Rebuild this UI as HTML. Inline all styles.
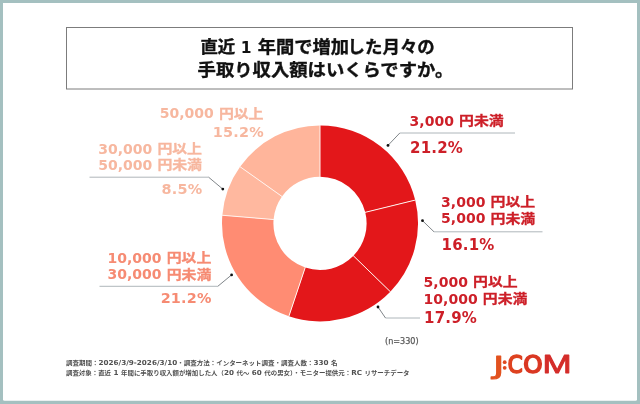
<!DOCTYPE html>
<html lang="ja"><head><meta charset="utf-8"><title>chart</title>
<style>
html,body{margin:0;padding:0;background:#fff;}
body{width:640px;height:404px;overflow:hidden;position:relative;}
svg{position:absolute;left:0;top:0;display:block;}
</style></head><body>
<svg width="640" height="404" viewBox="0 0 640 404">
<rect x="0" y="0" width="640" height="404" fill="#a4c0c0"/>
<path d="M3 3 H637 V399.2 Q637 400.7 635.5 400.7 H4.5 Q3 400.7 3 399.2 Z" fill="#ffffff"/>

<rect x="66.5" y="27.5" width="506" height="61.5" fill="#fff" stroke="#7c7c7c" stroke-width="1"/>
<g fill="#111" stroke="#111" stroke-width="0.35" font-family="Liberation Sans, Noto Sans CJK JP, sans-serif" font-weight="700" font-size="16.8">
<text x="200.4" y="53.3" textLength="34.8" lengthAdjust="spacingAndGlyphs">直近</text>
<text x="246.2" y="53.3" text-anchor="middle" font-family="DejaVu Sans, Liberation Sans, sans-serif" font-weight="700" font-size="15.5" stroke="none">1</text>
<text x="257.8" y="53.3" textLength="91.3" lengthAdjust="spacingAndGlyphs">年間で増加</text>
<text x="347.6" y="53.3" textLength="87.2" lengthAdjust="spacingAndGlyphs">した月々の</text>
<text x="197.6" y="76.4" textLength="255.7" lengthAdjust="spacingAndGlyphs">手取り収入額はいくらですか。</text>
</g>

<path d="M320.00 125.40 A98.0 98.0 0 0 1 415.19 200.10 L365.26 212.32 A46.6 46.6 0 0 0 320.00 176.80 Z" fill="#e3171a"/>
<path d="M415.19 200.10 A98.0 98.0 0 0 1 390.32 291.66 L353.44 255.86 A46.6 46.6 0 0 0 365.26 212.32 Z" fill="#e3171a"/>
<path d="M390.32 291.66 A98.0 98.0 0 0 1 288.87 316.32 L305.20 267.59 A46.6 46.6 0 0 0 353.44 255.86 Z" fill="#e3171a"/>
<path d="M288.87 316.32 A98.0 98.0 0 0 1 222.34 215.26 L273.56 219.53 A46.6 46.6 0 0 0 305.20 267.59 Z" fill="#ff8c73"/>
<path d="M222.34 215.26 A98.0 98.0 0 0 1 240.05 166.72 L281.98 196.45 A46.6 46.6 0 0 0 273.56 219.53 Z" fill="#ffb89f"/>
<path d="M240.05 166.72 A98.0 98.0 0 0 1 320.00 125.40 L320.00 176.80 A46.6 46.6 0 0 0 281.98 196.45 Z" fill="#ffb59b"/>
<line x1="320.00" y1="177.30" x2="320.00" y2="124.90" stroke="#fff3ee" stroke-width="1.0"/>
<line x1="364.78" y1="212.44" x2="415.67" y2="199.98" stroke="#fff3ee" stroke-width="1.0"/>
<line x1="353.08" y1="255.51" x2="390.68" y2="292.00" stroke="#fff3ee" stroke-width="1.0"/>
<line x1="305.36" y1="267.11" x2="288.71" y2="316.80" stroke="#fff3ee" stroke-width="1.0"/>
<line x1="274.06" y1="219.57" x2="221.84" y2="215.22" stroke="#fff3ee" stroke-width="1.0"/>
<line x1="282.39" y1="196.74" x2="239.64" y2="166.43" stroke="#fff3ee" stroke-width="1.0"/>
<g fill="none" stroke-width="0.8"><polyline points="399.8,133 515,133" stroke="#9aa3a8"/><polyline points="388,145.4 399.8,133" stroke="#5f666b"/><polyline points="434,231.8 542.5,231.8" stroke="#9aa3a8"/><polyline points="422.5,220.7 434,231.8" stroke="#5f666b"/><polyline points="385.5,318 420,318" stroke="#9aa3a8"/><polyline points="378,307 385.5,318" stroke="#5f666b"/><polyline points="208.6,177.2 89.5,177.2" stroke="#9aa3a8"/><polyline points="222.8,189.1 208.6,177.2" stroke="#5f666b"/><polyline points="217.8,286.3 99.5,286.3" stroke="#9aa3a8"/><polyline points="231.6,274.9 217.8,286.3" stroke="#5f666b"/></g><g fill="#111"><circle cx="388" cy="145.4" r="1.4"/><circle cx="422.5" cy="220.7" r="1.4"/><circle cx="378" cy="307" r="1.4"/><circle cx="222.8" cy="189.1" r="1.4"/><circle cx="231.6" cy="274.9" r="1.4"/></g>

<text x="409.6" y="125.8" fill="#cd1f28" text-anchor="start" font-family="DejaVu Sans, Liberation Sans, sans-serif" font-weight="700" font-size="14">3,000<tspan dx="5.2" dy="-0.7" font-family="Liberation Sans, Noto Sans CJK JP, sans-serif" font-weight="700" font-size="12.8" textLength="44.6" lengthAdjust="spacingAndGlyphs" stroke="#cd1f28" stroke-width="0.3">円未満</tspan></text>
<text x="410" y="152.5" fill="#cd1f28" text-anchor="start" font-family="DejaVu Sans, Liberation Sans, sans-serif" font-weight="700" font-size="15" letter-spacing="0.2">21.2%</text>
<text x="441.1" y="207" fill="#cd1f28" text-anchor="start" font-family="DejaVu Sans, Liberation Sans, sans-serif" font-weight="700" font-size="14">3,000<tspan dx="5.2" dy="-0.7" font-family="Liberation Sans, Noto Sans CJK JP, sans-serif" font-weight="700" font-size="12.8" textLength="44.6" lengthAdjust="spacingAndGlyphs" stroke="#cd1f28" stroke-width="0.3">円以上</tspan></text>
<text x="441.1" y="223.3" fill="#cd1f28" text-anchor="start" font-family="DejaVu Sans, Liberation Sans, sans-serif" font-weight="700" font-size="14">5,000<tspan dx="5.2" dy="-0.7" font-family="Liberation Sans, Noto Sans CJK JP, sans-serif" font-weight="700" font-size="12.8" textLength="44.6" lengthAdjust="spacingAndGlyphs" stroke="#cd1f28" stroke-width="0.3">円未満</tspan></text>
<text x="441.5" y="249.5" fill="#cd1f28" text-anchor="start" font-family="DejaVu Sans, Liberation Sans, sans-serif" font-weight="700" font-size="15" letter-spacing="0.2">16.1%</text>
<text x="423.6" y="287" fill="#cd1f28" text-anchor="start" font-family="DejaVu Sans, Liberation Sans, sans-serif" font-weight="700" font-size="14">5,000<tspan dx="5.2" dy="-0.7" font-family="Liberation Sans, Noto Sans CJK JP, sans-serif" font-weight="700" font-size="12.8" textLength="44.6" lengthAdjust="spacingAndGlyphs" stroke="#cd1f28" stroke-width="0.3">円以上</tspan></text>
<text x="423.6" y="303.6" fill="#cd1f28" text-anchor="start" font-family="DejaVu Sans, Liberation Sans, sans-serif" font-weight="700" font-size="14">10,000<tspan dx="5.2" dy="-0.7" font-family="Liberation Sans, Noto Sans CJK JP, sans-serif" font-weight="700" font-size="12.8" textLength="44.6" lengthAdjust="spacingAndGlyphs" stroke="#cd1f28" stroke-width="0.3">円未満</tspan></text>
<text x="424" y="322.5" fill="#cd1f28" text-anchor="start" font-family="DejaVu Sans, Liberation Sans, sans-serif" font-weight="700" font-size="15" letter-spacing="0.2">17.9%</text>
<text x="263.5" y="118.4" fill="#f7b79f" text-anchor="end" font-family="DejaVu Sans, Liberation Sans, sans-serif" font-weight="700" font-size="14">50,000<tspan dx="5.2" dy="-0.7" font-family="Liberation Sans, Noto Sans CJK JP, sans-serif" font-weight="700" font-size="12.8" textLength="44.6" lengthAdjust="spacingAndGlyphs" stroke="#f7b79f" stroke-width="0.3">円以上</tspan></text>
<text x="263.8" y="136.6" fill="#f7b79f" text-anchor="end" font-family="DejaVu Sans, Liberation Sans, sans-serif" font-weight="700" font-size="14.4" letter-spacing="0.2">15.2%</text>
<text x="202.0" y="153.8" fill="#f7b79f" text-anchor="end" font-family="DejaVu Sans, Liberation Sans, sans-serif" font-weight="700" font-size="14">30,000<tspan dx="5.2" dy="-0.7" font-family="Liberation Sans, Noto Sans CJK JP, sans-serif" font-weight="700" font-size="12.8" textLength="44.6" lengthAdjust="spacingAndGlyphs" stroke="#f7b79f" stroke-width="0.3">円以上</tspan></text>
<text x="202.0" y="170" fill="#f7b79f" text-anchor="end" font-family="DejaVu Sans, Liberation Sans, sans-serif" font-weight="700" font-size="14">50,000<tspan dx="5.2" dy="-0.7" font-family="Liberation Sans, Noto Sans CJK JP, sans-serif" font-weight="700" font-size="12.8" textLength="44.6" lengthAdjust="spacingAndGlyphs" stroke="#f7b79f" stroke-width="0.3">円未満</tspan></text>
<text x="202.3" y="194.4" fill="#f7b79f" text-anchor="end" font-family="DejaVu Sans, Liberation Sans, sans-serif" font-weight="700" font-size="14.4" letter-spacing="0.2">8.5%</text>
<text x="211.3" y="262.8" fill="#f68b73" text-anchor="end" font-family="DejaVu Sans, Liberation Sans, sans-serif" font-weight="700" font-size="14">10,000<tspan dx="5.2" dy="-0.7" font-family="Liberation Sans, Noto Sans CJK JP, sans-serif" font-weight="700" font-size="12.8" textLength="44.6" lengthAdjust="spacingAndGlyphs" stroke="#f68b73" stroke-width="0.3">円以上</tspan></text>
<text x="211.3" y="279.4" fill="#f68b73" text-anchor="end" font-family="DejaVu Sans, Liberation Sans, sans-serif" font-weight="700" font-size="14">30,000<tspan dx="5.2" dy="-0.7" font-family="Liberation Sans, Noto Sans CJK JP, sans-serif" font-weight="700" font-size="12.8" textLength="44.6" lengthAdjust="spacingAndGlyphs" stroke="#f68b73" stroke-width="0.3">円未満</tspan></text>
<text x="211.60000000000002" y="302.5" fill="#f68b73" text-anchor="end" font-family="DejaVu Sans, Liberation Sans, sans-serif" font-weight="700" font-size="14.4" letter-spacing="0.2">21.2%</text>

<g fill="#505050" font-family="Liberation Sans, Noto Sans CJK JP, sans-serif" font-weight="700" font-size="6.2">
<text x="66" y="364.5" textLength="271.5" lengthAdjust="spacingAndGlyphs">調査期間：<tspan font-family="DejaVu Sans, Liberation Sans, sans-serif" font-weight="700" font-size="6.9">2026/3/9-2026/3/10</tspan>・調査方法：インターネット調査・調査人数：<tspan font-family="DejaVu Sans, Liberation Sans, sans-serif" font-weight="700" font-size="6.9">330 </tspan>名</text>
<text x="66" y="375.2" textLength="343.5" lengthAdjust="spacingAndGlyphs">調査対象：直近<tspan font-family="DejaVu Sans, Liberation Sans, sans-serif" font-weight="700" font-size="6.9"> 1 </tspan>年間に手取り収入額が増加した人（<tspan font-family="DejaVu Sans, Liberation Sans, sans-serif" font-weight="700" font-size="6.9">20 </tspan>代～<tspan font-family="DejaVu Sans, Liberation Sans, sans-serif" font-weight="700" font-size="6.9"> 60 </tspan>代の男女）・モニター提供元：<tspan font-family="DejaVu Sans, Liberation Sans, sans-serif" font-weight="700" font-size="6.9">RC </tspan>リサーチデータ</text>
</g>
<text x="385" y="344.3" fill="#5a5a5a" stroke="#5a5a5a" stroke-width="0.25" font-family="DejaVu Sans, Liberation Sans, sans-serif" font-size="8.1">(n=330)</text>


<g>
<text transform="translate(493.23,373.53) scale(1.438,1)" font-family="DejaVu Sans, sans-serif" font-weight="400" font-size="25.59" fill="#e2521f" stroke="#e2521f" stroke-width="1.1" stroke-linejoin="round">J</text>
<text transform="translate(507.77,372.98) scale(0.877,1)" font-family="DejaVu Sans, sans-serif" font-weight="400" font-size="24.37" fill="#de4220" stroke="#de4220" stroke-width="1.7" stroke-linejoin="round">C</text>
<text transform="translate(523.21,372.98) scale(1.008,1)" font-family="DejaVu Sans, sans-serif" font-weight="400" font-size="24.37" fill="#da3823" stroke="#da3823" stroke-width="1.7" stroke-linejoin="round">O</text>
<text transform="translate(542.59,373.35) scale(1.311,1)" font-family="Liberation Sans, sans-serif" font-weight="400" font-size="26.67" fill="#d42d2a" stroke="#d42d2a" stroke-width="0.9" stroke-linejoin="round">M</text>
<circle cx="504.7" cy="362.2" r="1.9" fill="#e04a1f"/><circle cx="504.7" cy="367.8" r="1.9" fill="#e04a1f"/>
</g>

</svg>
</body></html>
